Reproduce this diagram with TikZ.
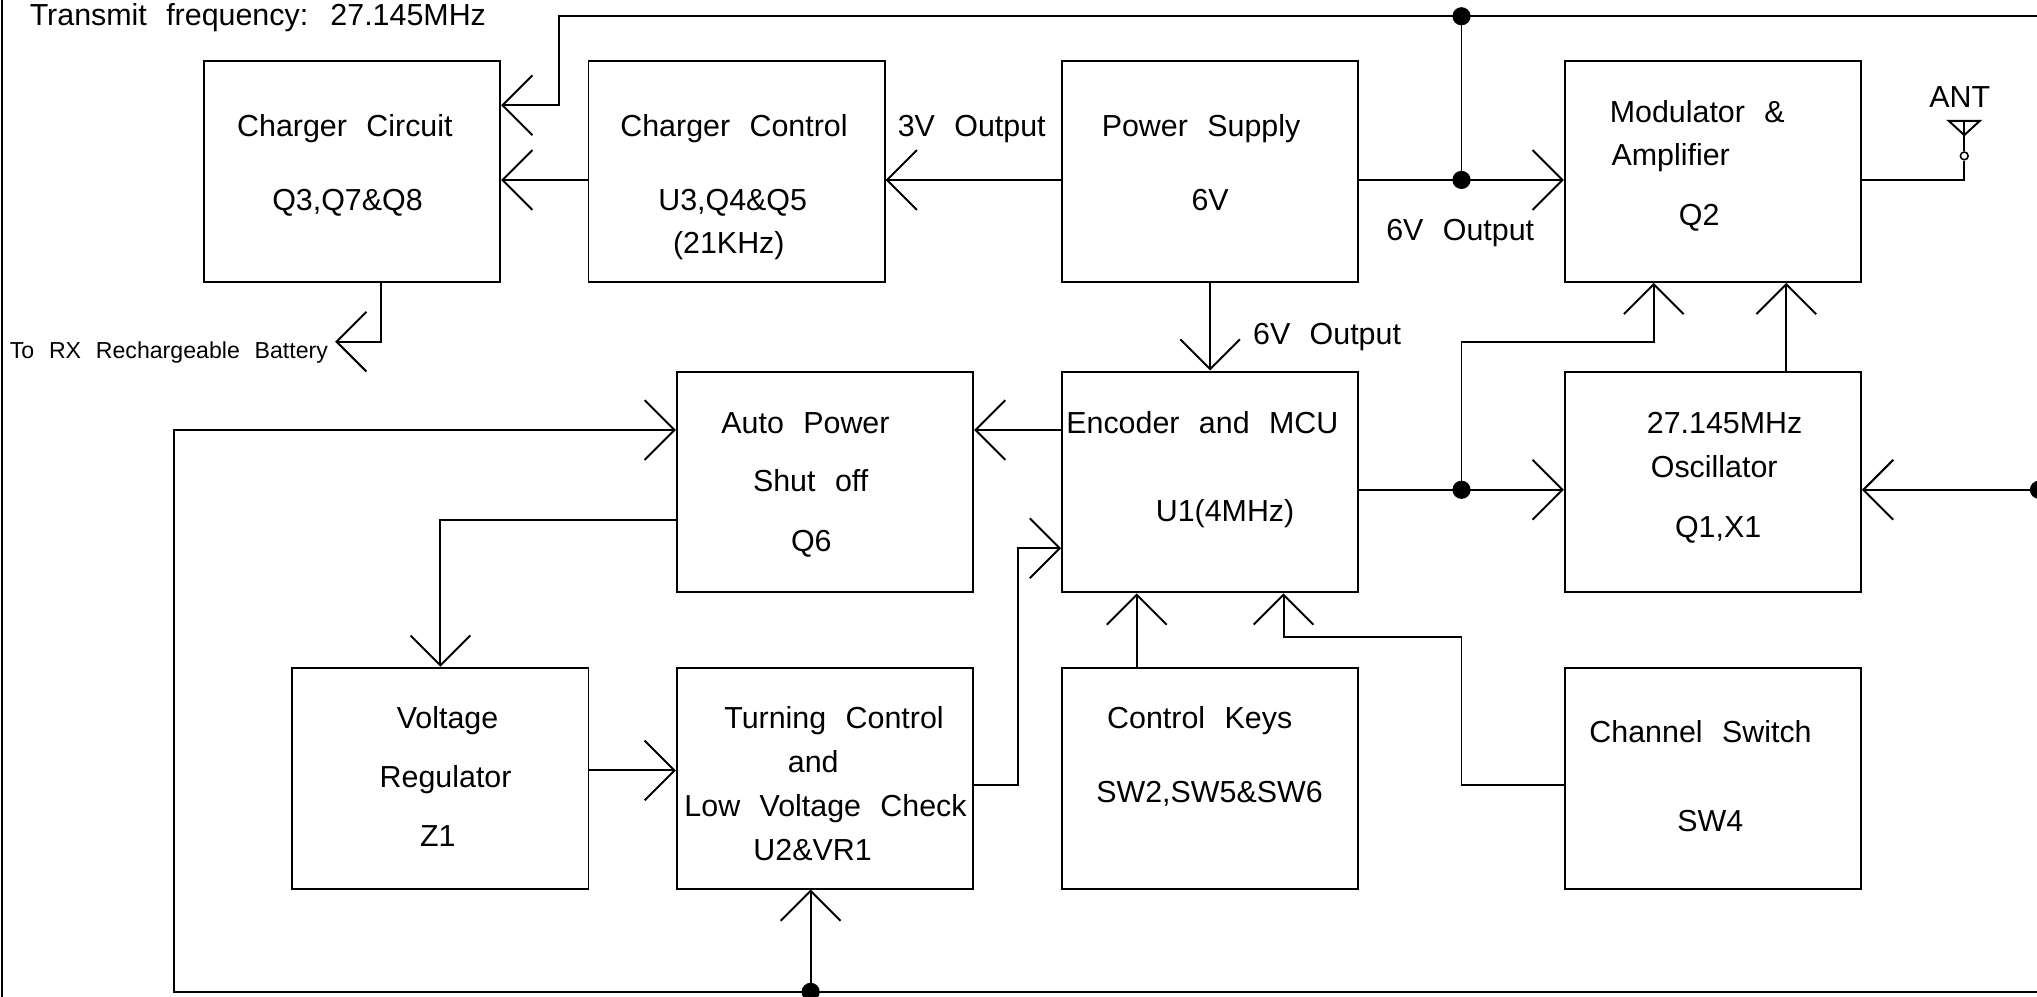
\documentclass[tikz,border=0pt]{standalone}
\usepackage{fontspec}
\setmainfont{Liberation Sans}[WordSpace=2.3]
\usetikzlibrary{arrows.meta,calc}
\begin{document}
\begin{tikzpicture}[x=0.5pt,y=-0.5pt,
  box/.style={draw, line width=0.75pt, minimum width=114pt, minimum height=85pt, inner sep=0pt},
  lbl/.style={anchor=base, inner sep=0pt, font=\fontsize{11.7}{14}\selectfont},
  small/.style={anchor=base, inner sep=0pt, font=\fontsize{8.9}{11}\selectfont},
  wire/.style={line width=0.75pt},
  arr/.style={line width=0.75pt, -{Straight Barb[length=11.5pt,width=23pt]}},
  dot/.style={circle, fill, inner sep=0pt, minimum size=7pt}]
\useasboundingbox (0,0) rectangle (1568,767.4);
\clip (0,0) rectangle (1568,767.4);
% boxes
\node[box] (cc)  at (271,132) {};
\node[box] (ctl) at (567,132) {};
\node[box] (ps)  at (931.5,132) {};
\node[box] (mod) at (1318.5,132) {};
\node[box] (aps) at (635,371) {};
\node[box] (enc) at (931.5,371) {};
\node[box] (osc) at (1318.5,371) {};
\node[box] (vr)  at (339,599) {};
\node[box] (tc)  at (635,599) {};
\node[box] (ck)  at (931.5,599) {};
\node[box] (cs)  at (1318.5,599) {};
% texts
\node[lbl] (title) at (198.5,20) {Transmit frequency: 27.145MHz};
\node[lbl] (cc1) at (265.5,105.4) {Charger Circuit};
\node[lbl] (cc2) at (267.5,162.4) {Q3,Q7\&Q8};
\node[lbl] (ctl1) at (565,105.4) {Charger Control};
\node[lbl] (ctl2) at (564,162.4) {U3,Q4\&Q5};
\node[lbl] (ctl3) at (561,195.4) {(21KHz)};
\node[lbl] (v3) at (748,105.4) {3V Output};
\node[lbl] (ps1) at (924.5,105.4) {Power Supply};
\node[lbl] (ps2) at (931.5,162.4) {6V};
\node[lbl] (v6a) at (1124,185.4) {6V Output};
\node[lbl] (mod1) at (1306.5,94.4) {Modulator \&};
\node[lbl] (mod2) at (1286,127.4) {Amplifier};
\node[lbl] (mod3) at (1308,173.4) {Q2};
\node[lbl] (antl) at (1508.5,82.4) {ANT};
\node[small] (batl) at (130,276) {To RX Rechargeable Battery};
\node[lbl] (v6b) at (1021.5,265.4) {6V Output};
\node[lbl] (aps1) at (620,333.4) {Auto Power};
\node[lbl] (aps2) at (624,378.4) {Shut off};
\node[lbl] (aps3) at (624.5,424.4) {Q6};
\node[lbl] (enc1) at (925.5,333.4) {Encoder and MCU};
\node[lbl] (enc2) at (943,401.4) {U1(4MHz)};
\node[lbl] (osc1) at (1327.5,333.4) {27.145MHz};
\node[lbl] (osc2) at (1319.5,367.9) {Oscillator};
\node[lbl] (osc3) at (1322.5,413.4) {Q1,X1};
\node[lbl] (vr1) at (344.5,560.4) {Voltage};
\node[lbl] (vr2) at (343,606.4) {Regulator};
\node[lbl] (vr3) at (337,651.4) {Z1};
\node[lbl] (tc1) at (642,560.4) {Turning Control};
\node[lbl] (tc2) at (626,594.4) {and};
\node[lbl] (tc3) at (635.5,628.4) {Low Voltage Check};
\node[lbl] (tc4) at (625.5,662.4) {U2\&VR1};
\node[lbl] (ck1) at (923.5,560.4) {Control Keys};
\node[lbl] (ck2) at (931,617.4) {SW2,SW5\&SW6};
\node[lbl] (cs1) at (1309,571.4) {Channel Switch};
\node[lbl] (cs2) at (1316.5,640.4) {SW4};
% coordinates and junctions
\coordinate (tr) at (1568,12.5);
\coordinate (tl) at (430,12.5);
\coordinate (batt) at (258,263);
\coordinate (br) at (1568,763.5);
\coordinate (bl) at (134,763.5);
\coordinate (csb) at (1125,490);
\coordinate (mb) at (1125,263);
\node[dot] (j1) at (1125,12.5) {};
\node[dot] (j2) at (1125,138.5) {};
\node[dot] (j3) at (1125,377) {};
\node[dot] (jb) at (624,763.5) {};
\node[dot] (jr) at (1569.5,377) {};
% left frame
\draw[wire] (1.5,0) -- (1.5,767.4);
% connectors
\draw[arr] (tr) -- (tl) |- ($(cc.east)+(0,-51)$);
\draw[wire] (j1.center) -- (j2.center);
\draw[arr] ($(ps.east)+(0,6.5)$) -- ($(mod.west)+(0,6.5)$);
\draw[arr] ($(ps.west)+(0,6.5)$) -- ($(ctl.east)+(0,6.5)$);
\draw[arr] ($(ctl.west)+(0,6.5)$) -- ($(cc.east)+(0,6.5)$);
\draw[arr] ($(cc.south)+(22,0)$) |- (batt);
\draw[arr] (ps.south) -- (enc.north);
\draw[arr] ($(enc.west)+(0,-40)$) -- ($(aps.east)+(0,-40)$);
\draw[wire] (br) -- (jb.center);
\draw[arr] (jb.center) -- (bl) |- ($(aps.west)+(0,-40)$);
\draw[arr] (jb.center) -- ($(tc.south)+(-11,0)$);
\draw[arr] ($(aps.west)+(0,29)$) -| (vr.north);
\draw[arr] ($(vr.east)+(0,-6)$) -- ($(tc.west)+(0,-6)$);
\draw[arr] ($(tc.east)+(0,5)$) -- ++(34,0) |- ($(enc.west)+(0,51)$);
\draw[arr] ($(ck.north)+(-56.5,0)$) -- ($(enc.south)+(-56.5,0)$);
\draw[arr] ($(cs.west)+(0,5)$) -| (csb) -| ($(enc.south)+(56.5,0)$);
\draw[arr] ($(enc.east)+(0,6)$) -- ($(osc.west)+(0,6)$);
\draw[arr] (j3.center) -- (mb) -| ($(mod.south)+(-45.5,0)$);
\draw[arr] ($(osc.north)+(56.5,0)$) -- ($(mod.south)+(56.5,0)$);
\draw[arr] (jr.center) -- ($(osc.east)+(0,6)$);
% antenna
\node[circle, draw, line width=0.6pt, inner sep=0pt, minimum size=3pt] (antc) at (1512,120) {};
\coordinate (antt) at (1512,93);
\draw[wire] ($(mod.east)+(0,6.5)$) -| (antc.south);
\draw[wire] (antc.north) -- (antt);
\draw[wire, line join=miter] (1500,93) -- (1524,93) -- (1512,104) -- cycle;
\end{tikzpicture}
\end{document}
